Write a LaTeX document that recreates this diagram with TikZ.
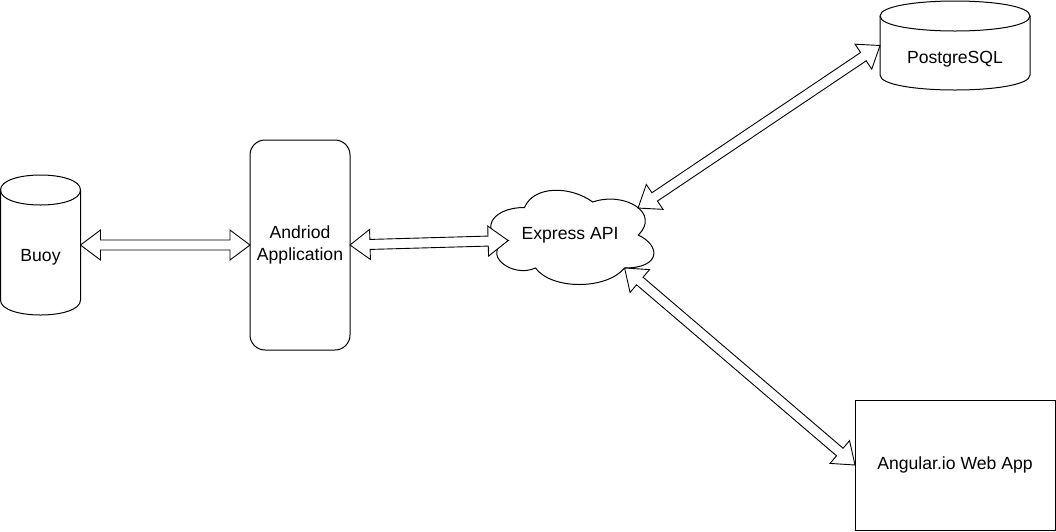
\documentclass[tikz,border=0pt]{standalone}
\usepackage{fontspec}
\setmainfont{Liberation Sans}
\usetikzlibrary{calc}

\tikzset{
  shapeline/.style={draw=black, line width=1pt},
  holder/.style={draw=none, inner sep=0pt, outer sep=0pt, align=center,
    font=\fontsize{17.6}{22}\selectfont},
  lbl/.style={inner sep=0pt, outer sep=0pt, font=\fontsize{17.6}{22}\selectfont,
    text height=12.6pt, text depth=3.7pt},
  flex/.style={draw=black, fill=white, line width=0.9pt, line join=miter},
}

% hollow double-headed "flex" arrow between two named points
\newcommand\flexarrow[2]{%
  \path (#1) coordinate (fa1) (#2) coordinate (fa2);
  \path ($(fa1)!20pt!(fa2)$) coordinate (fh1) ($(fa2)!20pt!(fa1)$) coordinate (fh2);
  \draw[flex] (fa1) -- ($(fh1)!15pt!90:(fa2)$) -- ($(fh1)!5pt!90:(fa2)$)
    -- ($(fh2)!5pt!-90:(fa1)$) -- ($(fh2)!15pt!-90:(fa1)$) -- (fa2)
    -- ($(fh2)!15pt!90:(fa1)$) -- ($(fh2)!5pt!90:(fa1)$)
    -- ($(fh1)!5pt!-90:(fa2)$) -- ($(fh1)!15pt!-90:(fa2)$) -- cycle;
}

% draw.io style cylinder drawn over a holder node
\newcommand\cylshape[3]{%
  \begin{scope}[shift={(#1.north west)}]
    \draw[shapeline] (0,15) .. controls (0,-5) and (#2,-5) .. (#2,15)
      -- (#2,#3-15) .. controls (#2,#3+5) and (0,#3+5) .. (0,#3-15) -- cycle;
    \draw[shapeline] (0,15) .. controls (0,35) and (#2,35) .. (#2,15);
  \end{scope}
}

\begin{document}
\begin{tikzpicture}[x=1pt, y=-1pt]
\useasboundingbox (0,0) rectangle (1056,531);

% Buoy
\node[holder, minimum width=80pt, minimum height=140pt] (buoy) at (40.5,245) {};
\cylshape{buoy}{80}{140}
\node[lbl] (buoytext) at (40.5,257) {Buoy};

% Android application
\node[holder, shapeline, rounded corners=15pt, minimum width=100pt, minimum height=210pt]
  (android) at (300,245) {Andriod\\Application};

% Express API cloud
\node[holder, minimum width=182pt, minimum height=110pt, text height=12.6pt, text depth=3.7pt]
  (express) at (570,235) {Express API};
\begin{scope}[shift={(express.north west)}, x=182pt, y=-110pt]
  \draw[shapeline] (0.25,0.25) .. controls (0.05,0.25) and (0,0.5) .. (0.16,0.55)
    .. controls (0,0.66) and (0.18,0.9) .. (0.31,0.8)
    .. controls (0.4,1) and (0.7,1) .. (0.8,0.8)
    .. controls (1,0.8) and (1,0.6) .. (0.875,0.5)
    .. controls (1,0.3) and (0.8,0.1) .. (0.625,0.2)
    .. controls (0.5,0.05) and (0.3,0.05) .. (0.25,0.25) -- cycle;
  \coordinate (expL) at (0.16,0.55);
  \coordinate (expTR) at (0.874,0.255);
  \coordinate (expBR) at (0.8,0.8);
\end{scope}

% PostgreSQL
\node[holder, minimum width=150pt, minimum height=89pt] (pg) at (955,45.5) {};
\cylshape{pg}{150}{89}
\node[lbl] (pgtext) at (955,59) {PostgreSQL};

% Angular web app
\node[holder, shapeline, minimum width=200pt, minimum height=130pt]
  (angular) at (955,465) {Angular.io Web App};

% connectors
\flexarrow{buoy.east}{android.west}
\flexarrow{android.east}{expL}
\flexarrow{expTR}{pg.west}
\flexarrow{expBR}{angular.west}
\end{tikzpicture}
\end{document}
